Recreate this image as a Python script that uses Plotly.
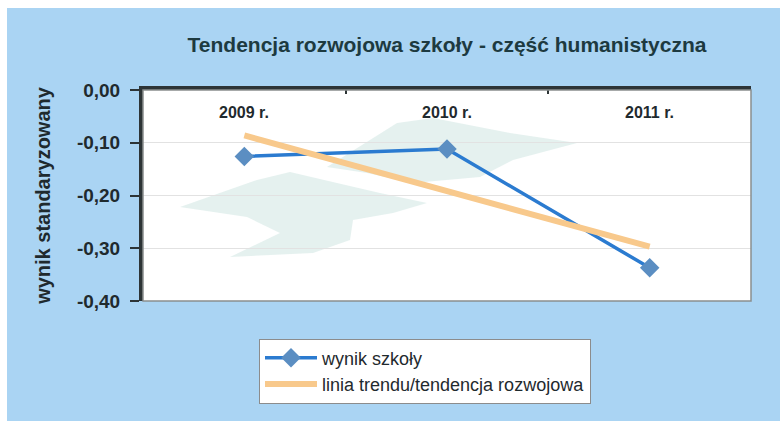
import plotly.graph_objects as go

# Data
years = ["2009 r.", "2010 r.", "2011 r."]
school_score = [-0.126, -0.112, -0.337]
trend_line = [-0.086, -0.192, -0.297]
y_ticks = [0, -0.1, -0.2, -0.3, -0.4]
y_tick_labels = ["0,00", "-0,10", "-0,20", "-0,30", "-0,40"]

W, H = 780, 421
M_L, M_R, M_T, M_B = 143, 29, 90, 120
plot_w = W - M_L - M_R
plot_h = H - M_T - M_B

FONT = "Arial, Liberation Sans, sans-serif"
DARK = "#1f2a2e"
AXIS = "#2d3436"
BG_BLUE = "#aad4f3"


def px_to_paper_x(px):
    return (px - M_L) / plot_w


def px_to_paper_y(py):
    return (H - M_B - py) / plot_h


def px_path(points):
    pts = [f"{px_to_paper_x(x):.4f},{px_to_paper_y(y):.4f}" for x, y in points]
    return "M " + " L ".join(pts) + " Z"


fig = go.Figure()

fig.add_trace(go.Scatter(
    x=years, y=school_score, mode="lines+markers", name="wynik szkoły",
    line=dict(color="#2b7bd0", width=3.5),
    marker=dict(symbol="diamond", size=15, color="#5b8ec2"),
    legendrank=1,
))
fig.add_trace(go.Scatter(
    x=years, y=trend_line, mode="lines", name="linia trendu/tendencja rozwojowa",
    line=dict(color="#f8c98c", width=6),
    legendrank=2,
))

# faint school-logo watermark behind the lines
logo_upper = [(327, 167), (397, 123), (433, 118), (510, 133), (577, 143),
              (513, 160), (480, 177), (413, 183), (367, 173)]
logo_lower = [(180, 207), (257, 180), (290, 172), (337, 183), (380, 193),
              (427, 203), (393, 213), (353, 220), (350, 240), (313, 253),
              (230, 257), (280, 233), (247, 217), (200, 210)]
for outline in (logo_upper, logo_lower):
    fig.add_shape(type="path", xref="paper", yref="paper", layer="below",
                  path=px_path(outline), fillcolor="#cfe6e2", opacity=0.55,
                  line=dict(width=0))

# thin white frame along the top and left edges of the page
fig.add_shape(type="rect", xref="paper", yref="paper", layer="above",
              x0=px_to_paper_x(-2), x1=px_to_paper_x(W + 2),
              y0=px_to_paper_y(8), y1=px_to_paper_y(-2),
              fillcolor="white", line=dict(width=0))
fig.add_shape(type="rect", xref="paper", yref="paper", layer="above",
              x0=px_to_paper_x(-2), x1=px_to_paper_x(7),
              y0=px_to_paper_y(H + 2), y1=px_to_paper_y(-2),
              fillcolor="white", line=dict(width=0))
# plot area border (right and bottom sides in grey)
fig.add_shape(type="rect", xref="x domain", yref="y domain",
              x0=0, x1=1, y0=0, y1=1, layer="above",
              line=dict(color="#8a8f8f", width=1.5))

# category labels sit just under the top axis, inside the plot area
for yr in years:
    fig.add_annotation(
        x=yr, xref="x", y=px_to_paper_y(112), yref="paper",
        text=f"<b>{yr}</b>", showarrow=False, yanchor="middle",
        font=dict(size=16, color=DARK, family=FONT),
    )

fig.update_layout(
    width=W, height=H,
    margin=dict(l=M_L, r=M_R, t=M_T, b=M_B),
    paper_bgcolor=BG_BLUE,
    plot_bgcolor="white",
    font=dict(family=FONT, color=DARK),
    title=dict(
        text="<b>Tendencja rozwojowa szkoły - część humanistyczna</b>",
        x=447 / W, xanchor="center", xref="container",
        y=1 - 45 / H, yanchor="middle",
        font=dict(size=21, color="#1d3a40", family=FONT),
    ),
    showlegend=True,
    legend=dict(
        x=px_to_paper_x(259), xanchor="left",
        y=px_to_paper_y(371), yanchor="middle",
        bgcolor="white", bordercolor="#8c8c8c", borderwidth=1,
        font=dict(size=18, color=DARK, family=FONT),
        tracegroupgap=0, itemwidth=52,
    ),
    xaxis=dict(
        type="category", range=[-0.5, 2.5], side="top",
        showline=True, linecolor=AXIS, linewidth=4,
        ticks="inside", ticklen=4, tickwidth=2, tickcolor=AXIS,
        tickson="boundaries", showgrid=False, zeroline=False,
        showticklabels=False,
    ),
    yaxis=dict(
        range=[-0.4, 0], autorange=False,
        tickvals=y_ticks, ticktext=y_tick_labels,
        showline=True, linecolor=AXIS, linewidth=4,
        ticks="outside", ticklen=9, tickwidth=2, tickcolor=AXIS,
        ticklabelstandoff=6,
        showgrid=True, gridcolor="#e2e2e2", gridwidth=1, zeroline=False,
        tickfont=dict(size=19, color=DARK, family=FONT, weight="bold"),
        title=dict(text="<b>wynik standaryzowany</b>", standoff=22,
                   font=dict(size=20, color=DARK, family=FONT)),
    ),
)

fig.write_html("out.html")
